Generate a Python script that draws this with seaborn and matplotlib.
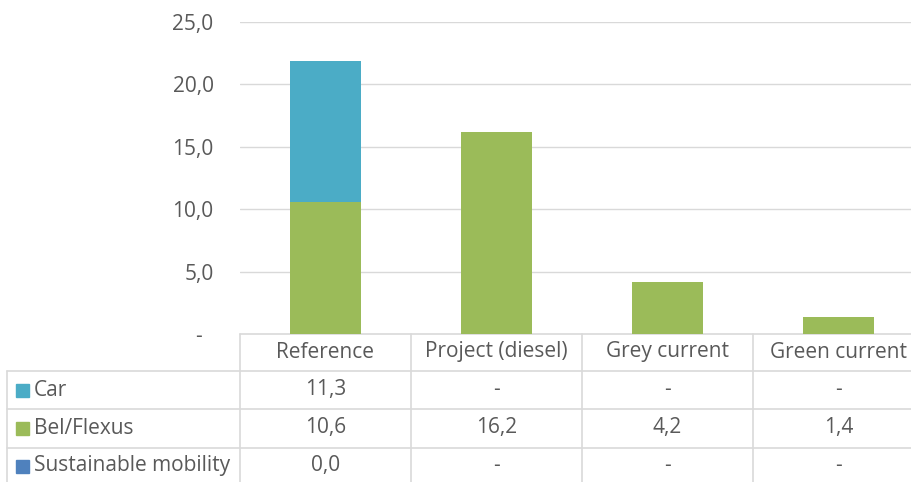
import numpy as np
import pandas as pd
import matplotlib
matplotlib.use("Agg")
import matplotlib.pyplot as plt
from matplotlib.patches import Rectangle
import seaborn as sns

# Emission data per scenario (NaN = no value, shown as "-")
categories = ["Reference", "Project (diesel)", "Grey current", "Green current"]
series_names = ["Car", "Bel/Flexus", "Sustainable mobility"]
car = [11.3, np.nan, np.nan, np.nan]
bel_flexus = [10.6, 16.2, 4.2, 1.4]
sustainable = [0.0, np.nan, np.nan, np.nan]
y_ticks = [0, 5, 10, 15, 20, 25]
y_tick_labels = ["-  ", "5,0", "10,0", "15,0", "20,0", "25,0"]

colors = {"Car": "#4BACC6", "Bel/Flexus": "#9BBB59", "Sustainable mobility": "#4F81BD"}
text_color = "#595959"
line_color = "#D9D9D9"
fs = 15

sns.set_theme(style="white")
plt.rcParams["font.family"] = ["Open Sans", "DejaVu Sans"]

W, H = 911, 482
fig = plt.figure(figsize=(W / 100, H / 100), dpi=100)

# plot area in pixels (extends slightly past the right edge)
ax_left, ax_right, ax_top, ax_bottom = 240, 924, 22, 334
ax = fig.add_axes([ax_left / W, 1 - ax_bottom / H,
                   (ax_right - ax_left) / W, (ax_bottom - ax_top) / H])

df = pd.DataFrame({"category": categories,
                   "Car": car, "Bel/Flexus": bel_flexus,
                   "Sustainable mobility": sustainable}).fillna(0.0)
df["stack_bel"] = df["Sustainable mobility"] + df["Bel/Flexus"]
df["stack_car"] = df["stack_bel"] + df["Car"]

bar_w = 0.41
for col, name in [("stack_car", "Car"), ("stack_bel", "Bel/Flexus"),
                  ("Sustainable mobility", "Sustainable mobility")]:
    sns.barplot(data=df, x="category", y=col, color=colors[name],
                saturation=1, width=bar_w, linewidth=0, ax=ax, zorder=3)

ax.set_xlim(-0.5, 3.5)
ax.set_ylim(0, 25)
ax.set_yticks(y_ticks)
ax.set_yticklabels(y_tick_labels, color=text_color, fontsize=fs)
ax.tick_params(axis="y", length=0, pad=19)
ax.set_xticks([])
ax.set_xlabel("")
ax.set_ylabel("")
for s in ax.spines.values():
    s.set_visible(False)
for t in y_ticks[1:]:
    ax.axhline(t, color=line_color, lw=1, zorder=1)

# data table below the plot area
tr = ax.get_xaxis_transform()
col_px = 171.0


def px_x(p):
    return -0.5 - (ax_left + 1 - p) / col_px


def px_y(p):
    return (ax_bottom - p) / (ax_bottom - ax_top)


row_lines = [334, 371, 409, 448]
table_bottom = 500
row_centers = [352, 390, 428, 466]
left_edge = px_x(8)
right_edge = 3.6

# horizontal lines
ax.plot([-0.5, right_edge], [px_y(row_lines[0])] * 2, transform=tr,
        color=line_color, lw=1.2, clip_on=False)
for r in row_lines[1:]:
    ax.plot([left_edge, right_edge], [px_y(r)] * 2, transform=tr,
            color=line_color, lw=1.2, clip_on=False)
# vertical lines
for xc in [-0.5, 0.5, 1.5, 2.5, 3.5]:
    ax.plot([xc, xc], [px_y(row_lines[0]), px_y(table_bottom)], transform=tr,
            color=line_color, lw=1.2, clip_on=False)
ax.plot([left_edge, left_edge], [px_y(row_lines[1]), px_y(table_bottom)],
        transform=tr, color=line_color, lw=1.2, clip_on=False)

# header row
for i, c in enumerate(categories):
    ax.text(i, px_y(row_centers[0]), c, transform=tr, ha="center", va="center",
            color=text_color, fontsize=fs, clip_on=False)


def fmt(v):
    if v is None or (isinstance(v, float) and np.isnan(v)):
        return "-"
    return f"{v:.1f}".replace(".", ",")


series_values = [car, bel_flexus, sustainable]
sq_h = 13 / (ax_bottom - ax_top)
for name, vals, yc in zip(series_names, series_values, row_centers[1:]):
    yy = px_y(yc)
    ax.add_patch(Rectangle((px_x(17), yy - sq_h / 2), 13 / col_px, sq_h,
                           transform=tr, color=colors[name], clip_on=False))
    ax.text(px_x(35), yy, name, transform=tr, ha="left", va="center",
            color=text_color, fontsize=fs, clip_on=False)
    for i, v in enumerate(vals):
        ax.text(i, yy, fmt(v), transform=tr, ha="center", va="center",
                color=text_color, fontsize=fs, clip_on=False)

fig.savefig("out.png", dpi=100)
